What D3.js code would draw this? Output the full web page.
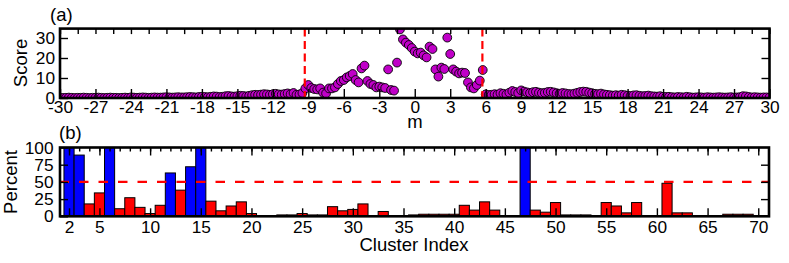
<!DOCTYPE html>
<html><head><meta charset="utf-8">
<script src="https://cdn.jsdelivr.net/npm/d3@7"></script>
<style>
body{margin:0;background:#fff}
text{font-family:"Liberation Sans",Arial,Helvetica,sans-serif;fill:#000}
</style>
</head><body><svg id="c" width="789" height="263"></svg>
<script>
// ---------- Panel (a) data: score vs m (grid -30..30, step 0.25) ----------
const mStart = -30, mStep = 0.25;
const scoreLeftTail = [
 0.1,0.0,0.1,0.2,0.1,0.0,0.1,0.1, 0.2,0.1,0.0,0.1,0.1,0.2,0.1,0.0,
 0.1,0.2,0.1,0.1,0.0,0.1,0.2,0.1, 0.3,0.2,0.1,0.2,0.3,0.2,0.1,0.2,
 0.3,0.2,0.2,0.3,0.4,0.3,0.2,0.3, 0.4,0.3,0.3,0.4,0.5,0.4,0.3,0.5, 0.6,
 0.5,0.4,0.6,0.8,0.7,0.5,0.6,0.9, 1.0,0.8,0.7,0.9,1.1,1.0,0.8,1.1,
 1.4,1.6,1.5,1.7,1.9,1.8,1.6,1.9, 2.1,1.8,1.7,2.0,2.3,1.9,2.5
];
const scoreCentre = [
 1.6,1.8,2.5,4.8,6.5,5.0,4.5,4.3,4.8,2.7,
 2.3,4.8,4.8,5.3,7.0,8.5,9.0,10.3,11.0,12.0,
 9.0,7.8,14.8,16.2,8.5,7.0,6.5,5.3,5.7,5.3,
 5.0,14.3,4.0,3.7,17.7,34.3,29.3,27.7,26.5,25.0,
 23.2,22.3,22.7,21.3,20.3,25.7,24.5,14.3,10.7,15.2,
 14.5,30.2,22.0,14.3,13.2,12.3,12.7,12.5,7.8,5.3,
 4.8,6.5,8.7,14.0,1.8,1.5
];
const scoreRightTail = [
 1.6,1.9,1.7,2.4,2.1,1.8,2.7,3.5,3.0,2.5,
 3.8,3.2,2.8,2.5,2.9,3.1,2.7,2.4,2.6,3.0,3.1,2.8,2.4,
 2.1,2.5,2.3,2.0,1.9,2.2,2.6,3.0,3.2,3.1,2.7,2.4,2.1,1.9,2.2,1.8,
 1.6,1.4,1.2,1.4,1.2,1.6,1.4,1.1,1.0,1.3,1.4,1.1,0.9,1.0,1.2,0.9,0.8,0.7,0.9,0.6,
 0.5,0.6,0.4,0.3,0.5,0.4,0.3,0.6,0.4,0.2,0.3,0.4,0.3,0.2,0.4,0.3,
 0.2,0.3,0.4,0.3,0.2,0.3,0.4,0.2, 0.3,0.4,0.9,0.8,0.5,0.3,0.4,0.3,
 0.2,0.3,0.3,0.2
];
const scores = scoreLeftTail.concat(scoreCentre, scoreRightTail);
const mTicks = [-30,-27,-24,-21,-18,-15,-12,-9,-6,-3,0,3,6,9,12,15,18,21,24,27,30];
const scoreTicks = [0,10,20,30];
const cutoffs = [-9.3, 5.72];

// ---------- Panel (b) data: percent per cluster ----------
const clusterIndex = d3.range(2, 71);
const percentValues = [
 100,89,18,34,100,11,27,13,4,16,
 63,38,72,100,22,8,15,21,4,1,
 0,2,2,4,2,2,14,8,10,18,
 0,7,1,0,2,3,3,3,3,16,
 9,21,9,0,0,100,9,6,20,2,
 2,2,0,20,15,5,20,1,0,48,
 5,5,1,0,0,3,3,3,0
];
const clusterTicks = [2,5,10,15,20,25,30,35,40,45,50,55,60,65,70];
const percentTicks = [0,25,50,75,100];
const threshold = 50;

// ---------- drawing ----------
const svg = d3.select("#c");
const FT = "17.3px", FL = "18.5px";
const A = {l:60, r:769.5, t:28.6, b:98};
const B = {l:60, r:769, t:147.5, b:216.3};

const xa = d3.scaleLinear().domain([-30,30]).range([A.l, A.r]);
const ya = d3.scaleLinear().domain([0,34.7]).range([A.b, A.t]);
const xb = d3.scaleLinear().domain([1.11,71.06]).range([B.l, B.r]);
const yb = d3.scaleLinear().domain([0,100]).range([B.b, B.t]);

const defs = svg.append("defs");
defs.append("clipPath").attr("id","ca").append("rect")
  .attr("x",A.l).attr("y",A.t).attr("width",A.r-A.l).attr("height",A.b-A.t);
defs.append("clipPath").attr("id","cb").append("rect")
  .attr("x",B.l).attr("y",B.t).attr("width",B.r-B.l).attr("height",B.b-B.t);

function styleAxis(g){
  g.select(".domain").remove();
  g.selectAll(".tick line").attr("stroke","#000").attr("stroke-width",1.4);
  g.selectAll(".tick text").style("font-size",FT).attr("fill","#000");
}

// Panel a points
const pts = scores.map((s,i)=>({m: mStart + i*mStep, s}));
const ga = svg.append("g").attr("clip-path","url(#ca)");
ga.selectAll("circle").data(pts).join("circle")
  .attr("cx",d=>xa(d.m)).attr("cy",d=>ya(d.s)).attr("r",4.4)
  .attr("fill","#c000c8").attr("stroke","#000").attr("stroke-width",0.9);
ga.selectAll("line.cut").data(cutoffs).join("line").attr("class","cut")
  .attr("x1",d=>xa(d)).attr("x2",d=>xa(d)).attr("y1",A.t).attr("y2",A.b)
  .attr("stroke","#ff0000").attr("stroke-width",2.2).attr("stroke-dasharray","8,4.5");

// Panel a axes
svg.append("g").attr("transform",`translate(0,${A.b})`)
  .call(d3.axisBottom(xa).tickValues(mTicks).tickSize(-9).tickPadding(3).tickFormat(d=>String(d)))
  .call(styleAxis);
svg.append("g").attr("transform",`translate(0,${A.t})`)
  .call(d3.axisTop(xa).tickValues(d3.range(-30,30.01,1.5)).tickSize(-5.5).tickFormat(""))
  .call(styleAxis);
svg.append("g").attr("transform",`translate(${A.l},0)`)
  .call(d3.axisLeft(ya).tickValues(scoreTicks).tickSize(-8).tickPadding(5).tickFormat(d=>String(d)))
  .call(styleAxis);
svg.append("g").attr("transform",`translate(${A.r},0)`)
  .call(d3.axisRight(ya).tickValues(scoreTicks.slice(1)).tickSize(-8).tickFormat(""))
  .call(styleAxis);
svg.append("rect").attr("x",A.l).attr("y",A.t).attr("width",A.r-A.l).attr("height",A.b-A.t)
  .attr("fill","none").attr("stroke","#000").attr("stroke-width",2.6);

svg.append("text").attr("x",50).attr("y",21).style("font-size",FL).text("(a)");
svg.append("text").attr("transform","translate(27,63) rotate(-90)").attr("text-anchor","middle")
  .style("font-size",FL).text("Score");
svg.append("text").attr("x",415).attr("y",127.5).attr("text-anchor","middle").style("font-size",FL).text("m");

// Panel b bars
const bars = clusterIndex.map((c,i)=>({c, v: percentValues[i]}));
const gb = svg.append("g").attr("clip-path","url(#cb)");
gb.selectAll("rect").data(bars.filter(d=>d.v>0)).join("rect")
  .attr("x",d=>xb(d.c-0.5)).attr("width",d=>xb(d.c+0.5)-xb(d.c-0.5))
  .attr("y",d=>yb(d.v)).attr("height",d=>yb(0)-yb(d.v))
  .attr("fill",d=>d.v>threshold?"#0000ff":"#ff0000")
  .attr("stroke","#000").attr("stroke-width",1);
gb.append("line").attr("x1",59.5).attr("x2",B.r).attr("y1",yb(threshold)).attr("y2",yb(threshold))
  .attr("stroke","#ff0000").attr("stroke-width",2.2).attr("stroke-dasharray","9.5,10");

// Panel b axes
svg.append("g").attr("transform",`translate(0,${B.b})`)
  .call(d3.axisBottom(xb).tickValues(clusterTicks).tickSize(-8).tickPadding(4).tickFormat(d=>String(d)))
  .call(styleAxis);
svg.append("g").attr("transform",`translate(0,${B.t})`)
  .call(d3.axisTop(xb).tickValues(d3.range(2,71)).tickSize(-4).tickFormat(""))
  .call(styleAxis);
svg.append("g").attr("transform",`translate(0,${B.t})`)
  .call(d3.axisTop(xb).tickValues(clusterTicks).tickSize(-8).tickFormat(""))
  .call(styleAxis);
svg.append("g").attr("transform",`translate(${B.l},0)`)
  .call(d3.axisLeft(yb).tickValues(percentTicks).tickSize(-8).tickPadding(6.5).tickFormat(d=>String(d)))
  .call(styleAxis);
svg.append("g").attr("transform",`translate(${B.r},0)`)
  .call(d3.axisRight(yb).tickValues([25,50,75]).tickSize(-8).tickFormat(""))
  .call(styleAxis);
svg.append("rect").attr("x",B.l).attr("y",B.t).attr("width",B.r-B.l).attr("height",B.b-B.t)
  .attr("fill","none").attr("stroke","#000").attr("stroke-width",2.6);

svg.append("text").attr("x",59).attr("y",139).style("font-size",FL).text("(b)");
svg.append("text").attr("transform","translate(17,182) rotate(-90)").attr("text-anchor","middle")
  .style("font-size",FL).text("Percent");
svg.append("text").attr("x",414).attr("y",251).attr("text-anchor","middle").style("font-size",FL).text("Cluster Index");
</script>
</body></html>
